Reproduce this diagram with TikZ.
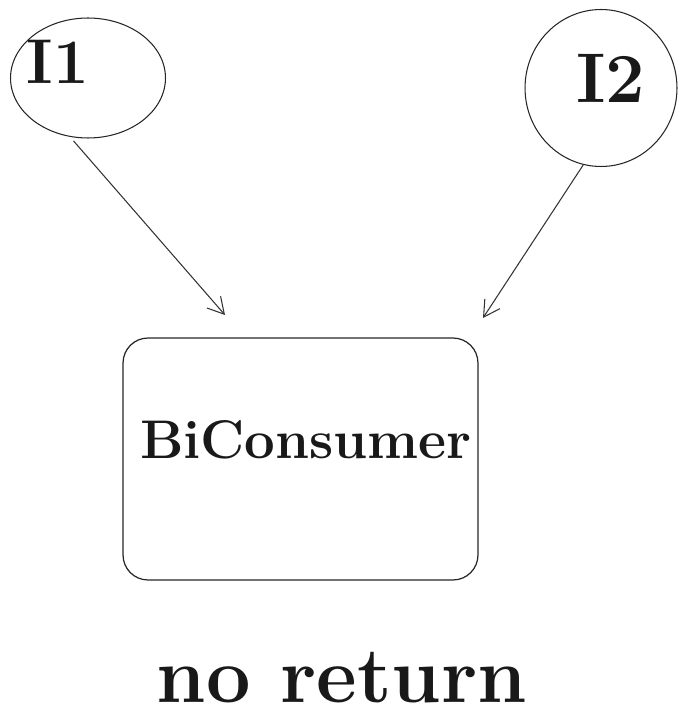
\documentclass[tikz,border=0pt]{standalone}
\usepackage{tikz}
\usetikzlibrary{positioning,arrows.meta,shapes.geometric}

\begin{document}
\begin{tikzpicture}[
  x=0.02cm, y=-0.02cm,
  inputnode/.style={draw=black!85, ellipse, line width=0.6pt, inner sep=0pt},
  hand/.style={font=\fontsize{36}{40}\selectfont\bfseries, text=black!90, inner sep=0pt},
  boxnode/.style={draw=black!85, rounded corners=0.5cm, line width=0.7pt, minimum width=7.1cm, minimum height=4.84cm},
  arr/.style={-{Straight Barb[length=3.2mm, width=3.6mm]}, draw=black!80, line width=0.6pt}
]
\useasboundingbox (0,0) rectangle (693,716);

\node[inputnode, minimum width=3.1cm, minimum height=2.4cm] (i1) at (88,78) {};
\node[hand] (i1txt) at (58,62) {I1};
\node[inputnode, minimum width=3.04cm, minimum height=3.14cm] (i2) at (601,88) {};
\node[hand, font=\fontsize{40}{44}\selectfont\bfseries] (i2txt) at (611,78) {I2};

\node[boxnode] (bc) at (300.5,459) {};
\node[hand, font=\fontsize{31}{36}\selectfont\bfseries] (bctxt) at (306,440) {BiConsumer};

\node[hand, font=\fontsize{45}{50}\selectfont\bfseries] (ret) at (342,678) {no return};

% arrows into the consumer box
\coordinate (t1) at (225,315);
\coordinate (t2) at (483,318);
\draw[arr, shorten <=3pt] (i1.253) -- (t1);
\draw[arr, shorten <=0pt] (i2.257) -- (t2);
\end{tikzpicture}
\end{document}
